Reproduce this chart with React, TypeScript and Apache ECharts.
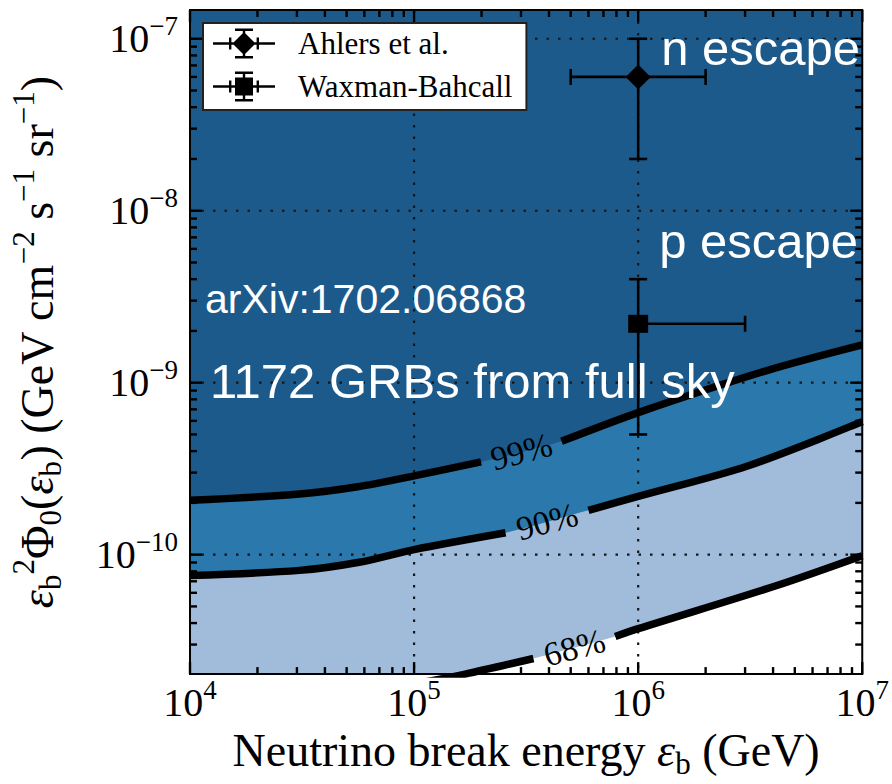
import React, { useEffect, useRef } from 'react';
import * as echarts from 'echarts';

// Axis ranges
const X_MIN = 1e4;
const X_MAX = 1e7;
const Y_MIN = 2.02e-11;
const Y_MAX = 1.47e-7;

// Decade ticks and minor tick multipliers
const xDecades = [1e4, 1e5, 1e6, 1e7];
const yDecades = [1e-11, 1e-10, 1e-9, 1e-8, 1e-7];
const minorMultipliers = [2, 3, 4, 5, 6, 7, 8, 9];

// Confidence contours: break energy (GeV) and flux (GeV cm^-2 s^-1 sr^-1)
const energy99 = [1e4, 3.08e4, 5.6e4, 1e5, 1.99e5, 4.55e5, 1e6, 3.78e6, 1e7];
const flux99 = [2.07e-10, 2.25e-10, 2.48e-10, 2.87e-10, 3.46e-10, 4.56e-10, 6.7e-10, 1.18e-9, 1.66e-9];

const energy90 = [1e4, 3.08e4, 5.6e4, 1e5, 2.56e5, 6.0e5, 1e6, 3.08e6, 1e7];
const flux90 = [7.57e-11, 8.1e-11, 9.0e-11, 1.07e-10, 1.34e-10, 1.81e-10, 2.18e-10, 3.28e-10, 5.94e-10];

const energy68 = [1.05e5, 1.69e5, 3.41e5, 7.9e5, 1e6, 4.19e6, 1e7];
const flux68 = [1.79e-11, 2.02e-11, 2.49e-11, 3.34e-11, 3.71e-11, 6.64e-11, 9.86e-11];

// Model predictions with error bars
const modelNames = ['Ahlers et al.', 'Waxman-Bahcall'];
const modelEnergy = [1e6, 1e6];
const modelFlux = [6.0e-8, 2.2e-9];
const modelEnergyLow = [5e5, 1e6];
const modelEnergyHigh = [2e6, 3e6];
const modelFluxLow = [2e-8, 5e-10];
const modelFluxHigh = [1e-7, 4e-9];

const SERIF = '"Liberation Serif", "Times New Roman", serif';
const SANS = '"Liberation Sans", Arial, Helvetica, sans-serif';
const DARK = '#1d5a8c';
const MID = '#2b78ac';
const LIGHT = '#a0bcda';

const contours = [
  { label: '99%', x: energy99, y: flux99, gapAfter: 4, fill: MID },
  { label: '90%', x: energy90, y: flux90, gapAfter: 4, fill: LIGHT },
  { label: '68%', x: energy68, y: flux68, gapAfter: 2, fill: '#ffffff' },
];

const DIAMOND_ICON =
  'path://M0 13.8H62V16.2H0Z M16 9H18.4V21H16Z M43.6 9H46V21H43.6Z M29.8 0H32.2V30H29.8Z M22 0H40V2.4H22Z M22 27.6H40V30H22Z M31 3.5L42.5 15L31 26.5L19.5 15Z';
const SQUARE_ICON =
  'path://M0 13.8H62V16.2H0Z M16 9H18.4V21H16Z M43.6 9H46V21H43.6Z M29.8 0H32.2V30H29.8Z M22 0H40V2.4H22Z M22 27.6H40V30H22Z M22 6H40V24H22Z';

const superDigits = (e: number) => (e < 0 ? '\u2212' + -e : String(e));

const tickFormatter = (v: number) => {
  const l = Math.log10(v);
  const e = Math.round(l);
  if (Math.abs(l - e) > 0.01) return '';
  return '{base|10}{exp|' + superDigits(e) + '}';
};

const tickRich = {
  base: { fontFamily: SERIF, fontSize: 40, lineHeight: 52, color: '#000' },
  exp: { fontFamily: SERIF, fontSize: 27, lineHeight: 27, verticalAlign: 'top', color: '#000' },
};

const nameRich = {
  m: { fontFamily: SERIF, fontSize: 46, lineHeight: 58, color: '#000' },
  i: { fontFamily: SERIF, fontStyle: 'italic', fontSize: 46, lineHeight: 58, color: '#000' },
  sup: { fontFamily: SERIF, fontSize: 31, lineHeight: 31, verticalAlign: 'top', color: '#000' },
  sub: { fontFamily: SERIF, fontSize: 31, lineHeight: 31, verticalAlign: 'bottom', color: '#000' },
};

// Dotted decade grid, inward ticks on all four sides, and the frame
function renderFrame(params: any, api: any) {
  const cs = params.coordSys;
  const left = cs.x;
  const top = cs.y;
  const right = cs.x + cs.width;
  const bottom = cs.y + cs.height;
  const children: any[] = [];
  const dotted = { stroke: '#151515', lineWidth: 2.2, lineDash: [2.5, 9], fill: 'none' };
  const tickStyle = { stroke: '#000', lineWidth: 2.4, fill: 'none' };
  const line = (x1: number, y1: number, x2: number, y2: number, style: any) =>
    children.push({ type: 'line', shape: { x1, y1, x2, y2 }, style });

  xDecades.forEach((v) => {
    const px = api.coord([v, Y_MIN])[0];
    if (v > X_MIN && v < X_MAX) line(px, top, px, bottom, dotted);
    line(px, bottom, px, bottom - 12, tickStyle);
    line(px, top, px, top + 12, tickStyle);
    minorMultipliers.forEach((m) => {
      const mv = v * m;
      if (mv > X_MIN && mv < X_MAX) {
        const mx = api.coord([mv, Y_MIN])[0];
        line(mx, bottom, mx, bottom - 7, tickStyle);
        line(mx, top, mx, top + 7, tickStyle);
      }
    });
  });

  yDecades.forEach((v) => {
    if (v >= Y_MIN && v <= Y_MAX) {
      const py = api.coord([X_MIN, v])[1];
      line(left, py, right, py, dotted);
      line(left, py, left + 12, py, tickStyle);
      line(right, py, right - 12, py, tickStyle);
    }
    minorMultipliers.forEach((m) => {
      const mv = v * m;
      if (mv > Y_MIN && mv < Y_MAX) {
        const my = api.coord([X_MIN, mv])[1];
        line(left, my, left + 7, my, tickStyle);
        line(right, my, right - 7, my, tickStyle);
      }
    });
  });

  children.push({
    type: 'rect',
    shape: { x: left, y: top, width: cs.width, height: cs.height },
    style: { fill: 'none', stroke: '#000', lineWidth: 2 },
  });
  return { type: 'group', children };
}

// Horizontal and vertical error bars with end caps
function renderErrorBars(_params: any, api: any) {
  const x = api.value(0);
  const y = api.value(1);
  const xl = api.value(2);
  const xh = api.value(3);
  const yl = api.value(4);
  const yh = api.value(5);
  const pl = api.coord([xl, y]);
  const ph = api.coord([xh, y]);
  const pb = api.coord([x, yl]);
  const pt = api.coord([x, yh]);
  const st = { stroke: '#000', lineWidth: 2.6, fill: 'none' };
  const children: any[] = [];
  const line = (x1: number, y1: number, x2: number, y2: number) =>
    children.push({ type: 'line', shape: { x1, y1, x2, y2 }, style: st });
  line(pl[0], pl[1], ph[0], ph[1]);
  if (xl !== x) line(pl[0], pl[1] - 8, pl[0], pl[1] + 8);
  if (xh !== x) line(ph[0], ph[1] - 8, ph[0], ph[1] + 8);
  line(pb[0], pb[1], pt[0], pt[1]);
  if (yl !== y) line(pb[0] - 9, pb[1], pb[0] + 9, pb[1]);
  if (yh !== y) line(pt[0] - 9, pt[1], pt[0] + 9, pt[1]);
  return { type: 'group', children };
}

function buildOption() {
  const series: any[] = [];

  // filled bands below each contour
  contours.forEach((c) => {
    series.push({
      type: 'line',
      name: c.label + ' band',
      data: c.x.map((v, i) => [v, c.y[i]]),
      smooth: 0.3,
      symbol: 'none',
      lineStyle: { width: 0 },
      areaStyle: { color: c.fill, opacity: 1, origin: 'start' },
      z: 1,
      silent: true,
    });
  });

  series.push({
    type: 'custom',
    name: 'frame',
    renderItem: renderFrame,
    data: [[X_MIN, Y_MIN]],
    z: 3,
    silent: true,
  });

  // contour lines, broken where their labels sit
  contours.forEach((c) => {
    const pts = c.x.map((v, i) => [v, c.y[i]]);
    const g = c.gapAfter;
    [pts.slice(0, g + 1), pts.slice(g + 1)].forEach((seg, k) => {
      series.push({
        type: 'line',
        name: c.label + (k === 0 ? ' left' : ' right'),
        data: seg,
        smooth: 0.3,
        symbol: 'none',
        lineStyle: { color: '#000', width: 7.5, cap: 'butt' },
        z: 4,
        silent: true,
      });
    });
    const lx = Math.sqrt(c.x[g] * c.x[g + 1]);
    const ly = Math.sqrt(c.y[g] * c.y[g + 1]);
    series.push({
      type: 'scatter',
      name: c.label + ' label',
      data: [[lx, ly]],
      symbol: 'circle',
      symbolSize: 1,
      itemStyle: { color: 'rgba(0,0,0,0)' },
      label: {
        show: true,
        position: 'inside',
        formatter: c.label,
        rotate: 15,
        fontFamily: SERIF,
        fontSize: 34,
        color: '#000000',
        opacity: 1,
        textBorderWidth: 0,
      },
      z: 5,
      silent: true,
    });
  });

  series.push({
    type: 'custom',
    name: 'error bars',
    renderItem: renderErrorBars,
    encode: { x: 0, y: 1 },
    data: modelNames.map((_, i) => [
      modelEnergy[i],
      modelFlux[i],
      modelEnergyLow[i],
      modelEnergyHigh[i],
      modelFluxLow[i],
      modelFluxHigh[i],
    ]),
    z: 6,
    silent: true,
  });

  modelNames.forEach((name, i) => {
    series.push({
      type: 'scatter',
      name,
      data: [[modelEnergy[i], modelFlux[i]]],
      symbol: i === 0 ? 'diamond' : 'rect',
      symbolSize: i === 0 ? [25, 25] : [20, 18],
      itemStyle: { color: '#000', opacity: 1 },
      z: 7,
      silent: true,
    });
  });

  const whiteText = (text: string, x: number, y: number, size: number, align: string) => ({
    type: 'text',
    x,
    y,
    z: 100,
    silent: true,
    style: {
      text,
      fill: '#ffffff',
      font: size + 'px ' + SANS,
      textAlign: align,
      textVerticalAlign: 'middle',
    },
  });

  return {
    animation: false,
    backgroundColor: '#ffffff',
    grid: {
      left: 190,
      right: 28,
      top: 10,
      bottom: 101,
      show: true,
      backgroundColor: DARK,
      borderWidth: 0,
    },
    legend: {
      data: [
        { name: modelNames[0], icon: DIAMOND_ICON, itemStyle: { color: '#000', opacity: 1 } },
        { name: modelNames[1], icon: SQUARE_ICON, itemStyle: { color: '#000', opacity: 1 } },
      ],
      orient: 'vertical',
      left: 203,
      top: 23,
      itemWidth: 62,
      itemHeight: 30,
      itemGap: 12,
      padding: [5, 14, 8, 10],
      backgroundColor: '#ffffff',
      borderColor: '#222',
      borderWidth: 2,
      selectedMode: false,
      textStyle: { fontFamily: SERIF, fontSize: 31, color: '#000', padding: [0, 0, 0, 18] },
      z: 20,
    },
    xAxis: {
      type: 'log',
      logBase: 10,
      min: X_MIN,
      max: X_MAX,
      axisLine: { show: false },
      axisTick: { show: false },
      splitLine: { show: false },
      axisLabel: { margin: 2, formatter: tickFormatter, rich: tickRich },
      name: '{m|Neutrino break energy }{i|\u03b5}{sub|b}{m| (GeV)}',
      nameLocation: 'middle',
      nameGap: 46,
      nameTextStyle: { rich: nameRich },
    },
    yAxis: {
      type: 'log',
      logBase: 10,
      min: Y_MIN,
      max: Y_MAX,
      axisLine: { show: false },
      axisTick: { show: false },
      splitLine: { show: false },
      axisLabel: {
        margin: 12,
        showMinLabel: false,
        showMaxLabel: false,
        formatter: tickFormatter,
        rich: tickRich,
      },
      name:
        '{i|\u03b5}{sub|b}{sup|2}{m|\u03a6}{sub|0}{m|(}{i|\u03b5}{sub|b}{m|) (GeV cm}{sup|\u22122}{m| s}{sup|\u22121}{m| sr}{sup|\u22121}{m|)}',
      nameLocation: 'middle',
      nameGap: 124,
      nameTextStyle: { rich: nameRich },
    },
    graphic: [
      whiteText('n escape', 860, 48, 49, 'right'),
      whiteText('p escape', 858, 241, 49, 'right'),
      whiteText('arXiv:1702.06868', 205, 299, 41, 'left'),
      whiteText('1172 GRBs from full sky', 210, 381, 49, 'left'),
    ],
    series,
  };
}

export default function App() {
  const ref = useRef<HTMLDivElement>(null);
  useEffect(() => {
    if (!ref.current) return;
    const chart = echarts.init(ref.current, undefined, { renderer: 'svg' });
    chart.setOption(buildOption() as any);
    return () => chart.dispose();
  }, []);
  return (
    <div
      ref={ref}
      style={{ position: 'absolute', left: 0, top: 0, width: 892, height: 784 }}
    />
  );
}
